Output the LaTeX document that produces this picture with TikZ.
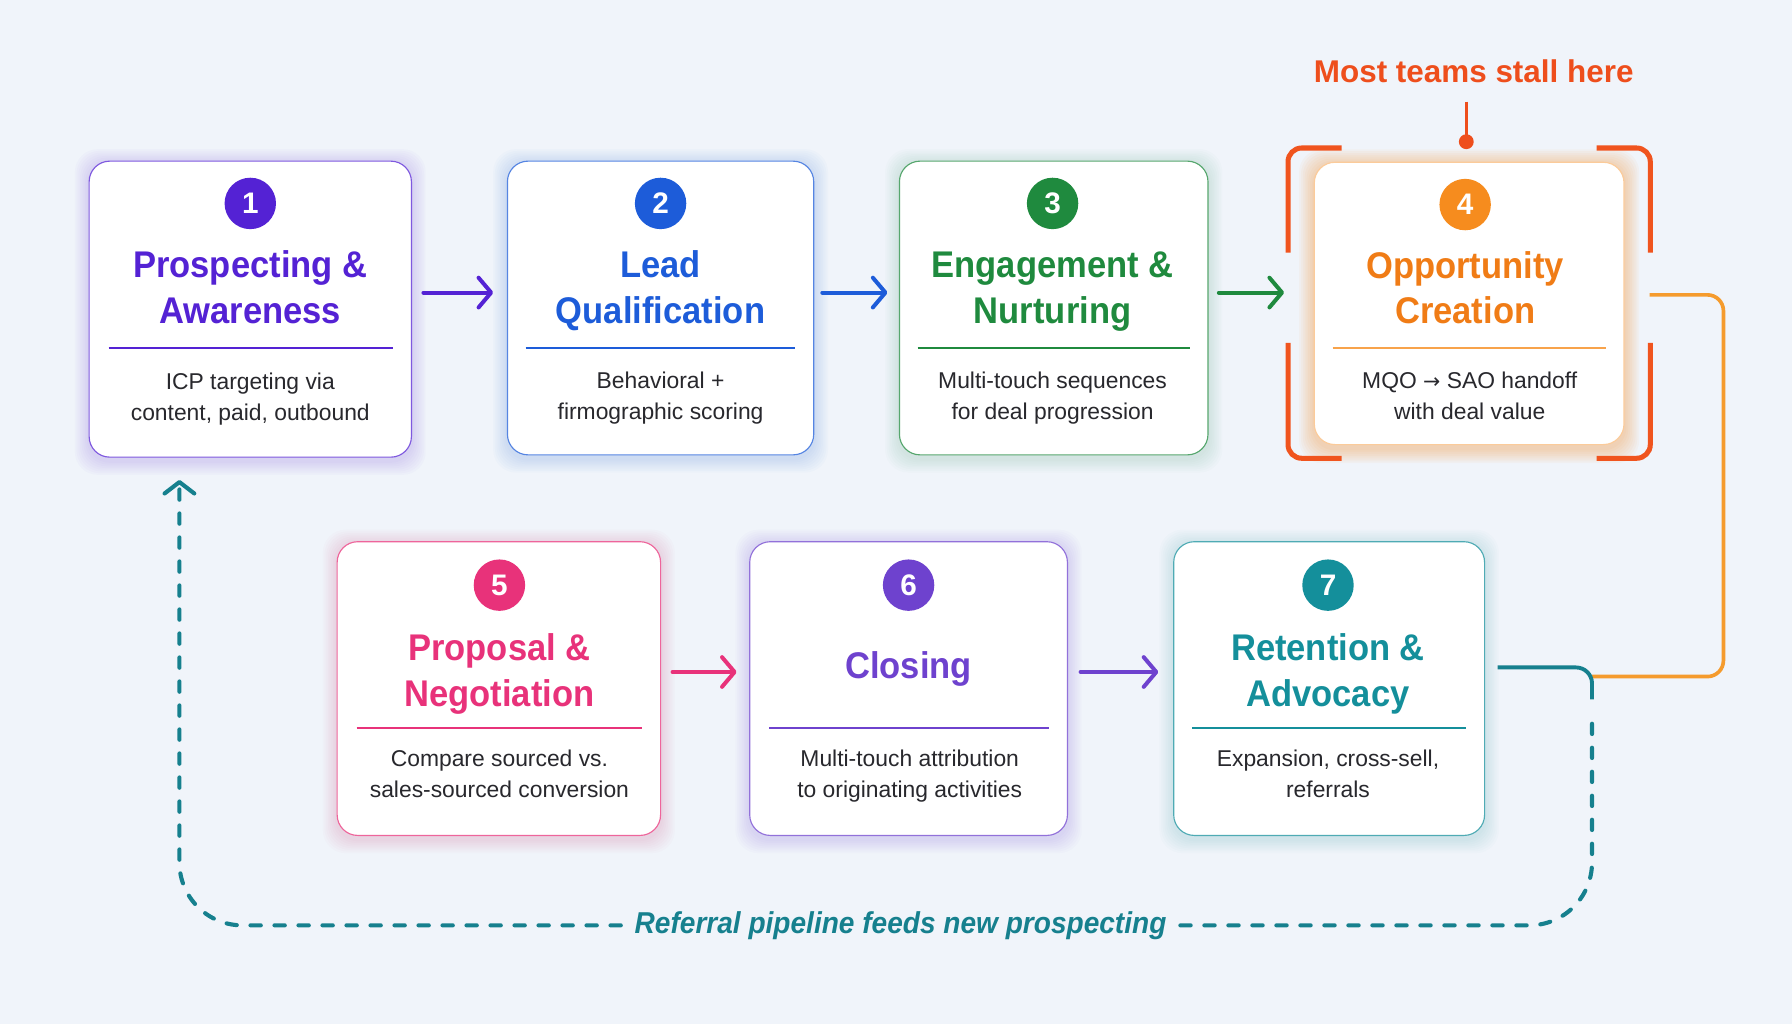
\documentclass[tikz,border=0pt]{standalone}
\usepackage{fontspec}
\setmainfont{Liberation Sans}
\newfontfamily\titlefont{Liberation Sans}[FakeStretch=0.93]
\newfontfamily\symfont{DejaVu Sans}
\usetikzlibrary{arrows.meta,backgrounds}
\definecolor{bgc}{RGB}{240,244,250}
\definecolor{cA}{RGB}{84,34,212}
\definecolor{cB}{RGB}{29,92,217}
\definecolor{cC}{RGB}{31,138,62}
\definecolor{cD}{RGB}{240,124,22}
\definecolor{cDc}{RGB}{246,140,30}
\definecolor{cE}{RGB}{232,50,122}
\definecolor{cF}{RGB}{110,66,206}
\definecolor{cG}{RGB}{20,143,155}
\definecolor{txt}{RGB}{40,40,45}
\definecolor{brk}{RGB}{240,84,30}
\definecolor{callc}{RGB}{238,78,28}
\definecolor{orln}{RGB}{245,155,45}
\definecolor{tealln}{RGB}{22,128,142}
\newcommand\glowit[4]{%
  \foreach \k in {1,...,8}{
    \fill[#2, opacity=#3, rounded corners=20pt]
      ([xshift=-\k*#4, yshift=-\k*#4-3pt]#1.south west) rectangle ([xshift=\k*#4, yshift=\k*#4-2pt]#1.north east);
  }}
\begin{document}
\begin{tikzpicture}[x=1pt,y=-1pt,
  box/.style={draw=#1!75!white, line width=1pt, fill=white, rounded corners=18pt, inner sep=0pt},
  num/.style={circle, fill=#1, text=white, minimum size=45pt, inner sep=0pt, font=\bfseries\fontsize{26}{26}\selectfont},
  ttl/.style={text=#1, anchor=base, inner sep=0pt, font=\titlefont\bfseries\fontsize{32.5}{40}\selectfont},
  dsc/.style={text=txt, anchor=base, inner sep=0pt, font=\fontsize{20}{27}\selectfont},
  divl/.style={draw=#1, line width=1.1pt},
  flow/.style={draw=#1, line width=3.5pt, line cap=round, line join=round,
    -{Straight Barb[length=11pt,width=26pt,line cap=round,line join=round]}},
  brkline/.style={draw=brk, line width=4.4pt, rounded corners=12pt},
  loopline/.style={draw=tealln, line width=3.6pt, line cap=round, dash pattern=on 9pt off 12pt, rounded corners=55pt},
]
\begin{scope}[on background layer]
\fill[bgc] (0,0) rectangle (1568,896);
\end{scope}
\useasboundingbox (0,0) rectangle (1568,896);

% boxes
\node[box=cA, minimum width=282pt, minimum height=259pt] (b1) at (219,270.5) {};
\node[box=cB, minimum width=268pt, minimum height=257pt] (b2) at (578,269.5) {};
\node[box=cC, minimum width=270pt, minimum height=257pt] (b3) at (922,269.5) {};
\node[box=cDc!60!white, minimum width=271pt, minimum height=247pt] (b4) at (1285.5,265.5) {};
\node[box=cE, minimum width=283pt, minimum height=257pt] (b5) at (436.5,602.5) {};
\node[box=cF, minimum width=278pt, minimum height=257pt] (b6) at (795,602.5) {};
\node[box=cG, minimum width=272pt, minimum height=257pt] (b7) at (1163,602.5) {};

\begin{scope}[on background layer]
\glowit{b1}{cA}{0.018}{1.5pt}
\glowit{b2}{cB}{0.018}{1.5pt}
\glowit{b3}{cC}{0.015}{1.5pt}
\glowit{b4}{cDc}{0.045}{1.6pt}
\glowit{b5}{cE}{0.018}{1.5pt}
\glowit{b6}{cF}{0.018}{1.5pt}
\glowit{b7}{cG}{0.015}{1.5pt}
\end{scope}

% number circles
\node[num=cA] (n1) at (219,178) {1};
\node[num=cB] (n2) at (578,178) {2};
\node[num=cC] (n3) at (921,178) {3};
\node[num=cDc] (n4) at (1282,179) {4};
\node[num=cE] (n5) at (437,512) {5};
\node[num=cF] (n6) at (795,512) {6};
\node[num=cG] (n7) at (1162,512) {7};

% titles
\node[ttl=cA] (t1a) at (219,243) {Prospecting \&};
\node[ttl=cA] (t1b) at (219,283) {Awareness};
\node[ttl=cB] (t2a) at (578,243) {Lead};
\node[ttl=cB] (t2b) at (578,283) {Qualification};
\node[ttl=cC] (t3a) at (921,243) {Engagement \&};
\node[ttl=cC] (t3b) at (921,283) {Nurturing};
\node[ttl=cD] (t4a) at (1282,244) {Opportunity};
\node[ttl=cD] (t4b) at (1282,283) {Creation};
\node[ttl=cE] (t5a) at (437,578) {Proposal \&};
\node[ttl=cE] (t5b) at (437,618) {Negotiation};
\node[ttl=cF] (t6) at (795,594) {Closing};
\node[ttl=cG] (t7a) at (1162,578) {Retention \&};
\node[ttl=cG] (t7b) at (1162,618) {Advocacy};

% dividers
\draw[divl=cA] (95,304.5) -- (344,304.5);
\draw[divl=cB] (460,304.5) -- (696,304.5);
\draw[divl=cC] (803,304.5) -- (1041,304.5);
\draw[divl=cDc!80!white] (1166,304.5) -- (1405,304.5);
\draw[divl=cE] (312,637) -- (562,637);
\draw[divl=cF] (673,637) -- (918,637);
\draw[divl=cG] (1043,637) -- (1283,637);

% descriptions
\node[dsc] (d1a) at (219,341) {ICP targeting via};
\node[dsc] (d1b) at (219,368) {content, paid, outbound};
\node[dsc] (d2a) at (578,340) {Behavioral +};
\node[dsc] (d2b) at (578,367) {firmographic scoring};
\node[dsc] (d3a) at (921,340) {Multi-touch sequences};
\node[dsc] (d3b) at (921,367) {for deal progression};
\node[dsc] (d4a) at (1286,340) {MQO {\symfont\fontsize{18}{20}\selectfont →} SAO handoff};
\node[dsc] (d4b) at (1286,367) {with deal value};
\node[dsc] (d5a) at (437,671) {Compare sourced vs.};
\node[dsc] (d5b) at (437,698) {sales-sourced conversion};
\node[dsc] (d6a) at (796,671) {Multi-touch attribution};
\node[dsc] (d6b) at (796,698) {to originating activities};
\node[dsc] (d7a) at (1162,671) {Expansion, cross-sell,};
\node[dsc] (d7b) at (1162,698) {referrals};

% flow arrows
\draw[flow=cA, shorten <=10pt, shorten >=12pt] ([yshift=14.5pt]b1.east) -- ([yshift=14.5pt]b1.east -| b2.west);
\draw[flow=cB, shorten <=7pt, shorten >=10pt] ([yshift=13.5pt]b2.east) -- ([yshift=13.5pt]b2.east -| b3.west);
\draw[flow=cC, shorten <=9pt, shorten >=26pt] ([yshift=13.5pt]b3.east) -- ([yshift=13.5pt]b3.east -| b4.west);
\draw[flow=cE, shorten <=10pt, shorten >=11pt] ([yshift=14.5pt]b5.east) -- ([yshift=14.5pt]b5.east -| b6.west);
\draw[flow=cF, shorten <=11pt, shorten >=13pt] ([yshift=14.5pt]b6.east) -- ([yshift=14.5pt]b6.east -| b7.west);

% focus brackets around stage 4
\draw[brkline] (1174,129.5) -- (1127,129.5) -- (1127,221);
\draw[brkline] (1397,129.5) -- (1444,129.5) -- (1444,221);
\draw[brkline] (1127,300) -- (1127,401) -- (1174,401);
\draw[brkline] (1444,300) -- (1444,401) -- (1397,401);

% callout
\node[anchor=base, inner sep=0pt, text=callc, font=\bfseries\fontsize{27.5}{30}\selectfont] (mts) at (1289.5,72) {Most teams stall here};
\coordinate (dot) at (1283,124);
\draw[callc, line width=2.5pt] (dot |- 0,89) -- (dot);
\fill[callc] (dot) circle (6.5);

% connectors to the loop
\coordinate (oc) at (1508,592);
\coordinate (j) at (1393,592);
\coordinate (jd) at (1393,612);
\draw[orln, line width=3.2pt, rounded corners=14pt] ([xshift=22pt,yshift=7.5pt]b4.east) -| (oc) -- (j);
\draw[tealln, line width=3.4pt, rounded corners=14pt] ([xshift=11pt,yshift=18.5pt]b7.east) -| (jd);

\node[anchor=base, inner xsep=12pt, inner ysep=0pt, text=tealln, font=\titlefont\bfseries\itshape\fontsize{26.4}{30}\selectfont] (ref) at (788,816.5) {Referral pipeline feeds new prospecting};
\coordinate (tip) at ([xshift=-62pt,yshift=-19.5pt]b1.south);
\draw[loopline] (ref.east) -| ([yshift=-10pt]jd);
\draw[loopline, -{Straight Barb[length=10pt,width=26pt,line cap=round,line join=round]}] (ref.west) -| (tip);
\end{tikzpicture}
\end{document}
